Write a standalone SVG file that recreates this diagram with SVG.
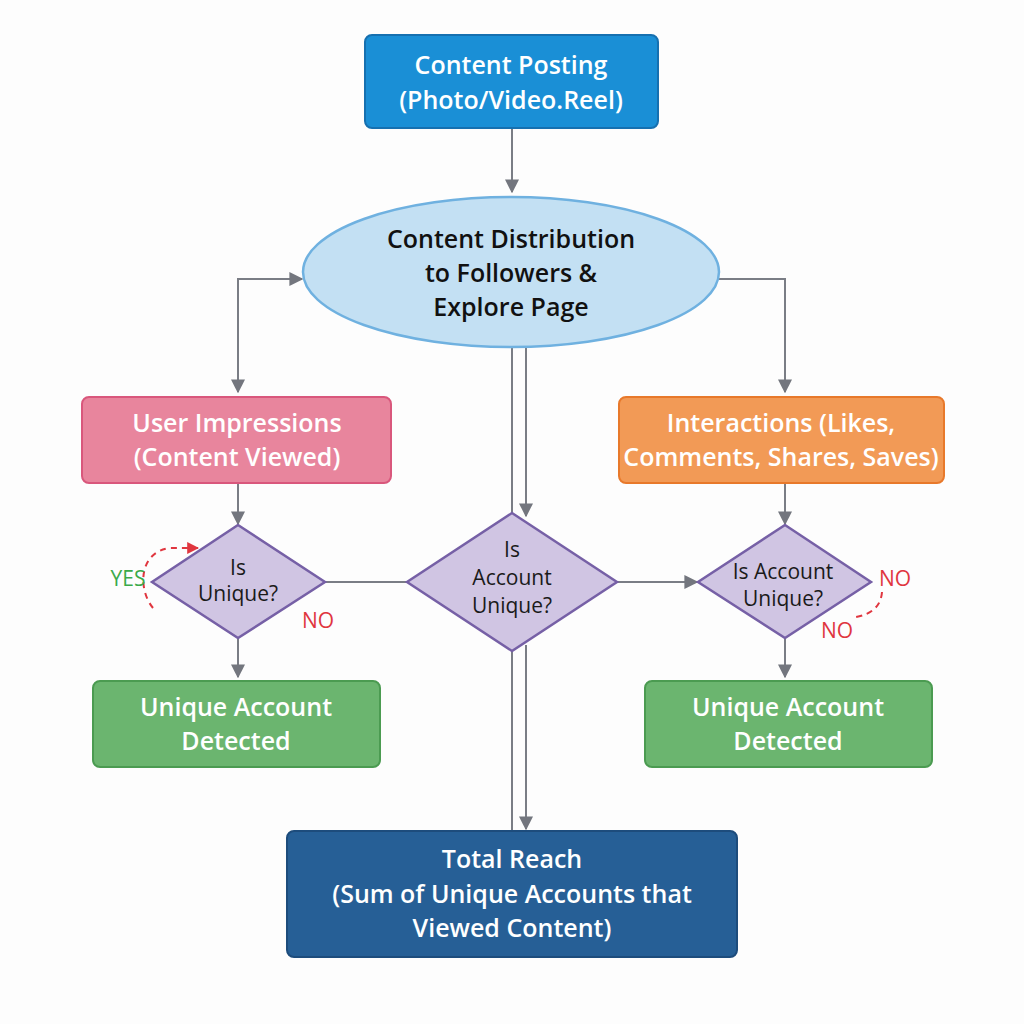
<svg xmlns="http://www.w3.org/2000/svg" width="1024" height="1024" viewBox="0 0 1024 1024">
<defs>
<marker id="ah2" viewBox="0 0 10 10" refX="9" refY="5" markerWidth="14" markerHeight="14" markerUnits="userSpaceOnUse" orient="auto-start-reverse">
<path d="M0,0 L10,5 L0,10 z" fill="#73767e"/>
</marker>
<marker id="ahr" viewBox="0 0 10 10" refX="9" refY="5" markerWidth="12" markerHeight="12" markerUnits="userSpaceOnUse" orient="auto">
<path d="M0,0 L10,5 L0,10 z" fill="#e0363f"/>
</marker>
</defs>
<style>
.t{font-family:"Open Sans","Liberation Sans",sans-serif;text-anchor:middle}
.w{fill:#ffffff;font-weight:600;font-size:25px}
.b{fill:#111111;font-weight:600;font-size:25px}
.d{fill:#1a1a1a;font-weight:400;font-size:21px}
.c{fill:none;stroke:#7a7d85;stroke-width:2}
.dia{fill:#d0c5e3;stroke:#7660a6;stroke-width:2.5}
.grn{fill:#6bb56f;stroke:#4b9b51;stroke-width:2}
.lblr{fill:#e0363f;font-size:21px;font-family:"Open Sans","Liberation Sans",sans-serif}
.lblg{fill:#3aaa4a;font-size:21px;font-family:"Open Sans","Liberation Sans",sans-serif}
.dash{fill:none;stroke:#e0363f;stroke-width:2;stroke-dasharray:6 5}
</style>
<rect width="1024" height="1024" fill="#fdfdfd"/>
<g id="connectors">
<path class="c" d="M512,128 V192" marker-end="url(#ah2)"/>
<path class="c" d="M302,279 H238 V392" marker-start="url(#ah2)" marker-end="url(#ah2)"/>
<path class="c" d="M719,279 H785 V392" marker-end="url(#ah2)"/>
<path class="c" d="M512,347 V513"/>
<path class="c" d="M526,347 V516" marker-end="url(#ah2)"/>
<path class="c" d="M238,483 V524" marker-end="url(#ah2)"/>
<path class="c" d="M785,483 V524" marker-end="url(#ah2)"/>
<path class="c" d="M325,582 H407"/>
<path class="c" d="M617,582 H697" marker-end="url(#ah2)"/>
<path class="c" d="M512,651 V831"/>
<path class="c" d="M526,645 V829" marker-end="url(#ah2)"/>
<path class="c" d="M238,638 V677" marker-end="url(#ah2)"/>
<path class="c" d="M785,638 V677" marker-end="url(#ah2)"/>
<path class="dash" d="M153,608 C138,590 138,552 170,548 L198,548" marker-end="url(#ahr)"/>
<path class="dash" d="M882,592 C881,606 872,614 856,617"/>
</g>
<g id="n_posting">
<rect x="365" y="35" width="293" height="93" rx="7" fill="#1a8fd6" stroke="#1670b0" stroke-width="2"/>
<text class="t w" x="511" y="74">Content Posting</text>
<text class="t w" x="511" y="109">(Photo/Video.Reel)</text>
</g>
<g id="n_distribution">
<ellipse cx="511" cy="272" rx="208" ry="75" fill="#c3e0f3" stroke="#6fb1e0" stroke-width="2.5"/>
<text class="t b" x="511" y="248">Content Distribution</text>
<text class="t b" x="511" y="282">to Followers &amp;</text>
<text class="t b" x="511" y="316">Explore Page</text>
</g>
<g id="n_impressions">
<rect x="82" y="397" width="309" height="86" rx="7" fill="#e8859d" stroke="#d9577c" stroke-width="2"/>
<text class="t w" x="237" y="432">User Impressions</text>
<text class="t w" x="237" y="466">(Content Viewed)</text>
</g>
<g id="n_interactions">
<rect x="619" y="397" width="325" height="86" rx="7" fill="#f29a56" stroke="#e8792b" stroke-width="2"/>
<text class="t w" x="781" y="432">Interactions (Likes,</text>
<text class="t w" x="781" y="466">Comments, Shares, Saves)</text>
</g>
<g id="n_dia_left">
<polygon class="dia" points="238,525 325,582 238,638 152,582"/>
<text class="t d" x="238" y="575">Is</text>
<text class="t d" x="238" y="601">Unique?</text>
</g>
<g id="n_dia_mid">
<polygon class="dia" points="512,513 617,582 512,651 407,582"/>
<text class="t d" x="512" y="557">Is</text>
<text class="t d" x="512" y="585">Account</text>
<text class="t d" x="512" y="613">Unique?</text>
</g>
<g id="n_dia_right">
<polygon class="dia" points="785,525 871,582 785,638 698,582"/>
<text class="t d" x="783" y="579">Is Account</text>
<text class="t d" x="783" y="606">Unique?</text>
</g>
<g id="n_unique_left">
<rect x="93" y="681" width="287" height="86" rx="7" class="grn"/>
<text class="t w" x="236" y="716">Unique Account</text>
<text class="t w" x="236" y="750">Detected</text>
</g>
<g id="n_unique_right">
<rect x="645" y="681" width="287" height="86" rx="7" class="grn"/>
<text class="t w" x="788" y="716">Unique Account</text>
<text class="t w" x="788" y="750">Detected</text>
</g>
<g id="n_total">
<rect x="287" y="831" width="450" height="126" rx="7" fill="#265f96" stroke="#1d4c7c" stroke-width="2"/>
<text class="t w" x="512" y="868">Total Reach</text>
<text class="t w" x="512" y="903">(Sum of Unique Accounts that</text>
<text class="t w" x="512" y="937">Viewed Content)</text>
</g>
<g id="labels">
<text class="lblg" x="128" y="586" text-anchor="middle">YES</text>
<text class="lblr" x="318" y="628" text-anchor="middle">NO</text>
<text class="lblr" x="895" y="586" text-anchor="middle">NO</text>
<text class="lblr" x="837" y="638" text-anchor="middle">NO</text>
</g>
</svg>
